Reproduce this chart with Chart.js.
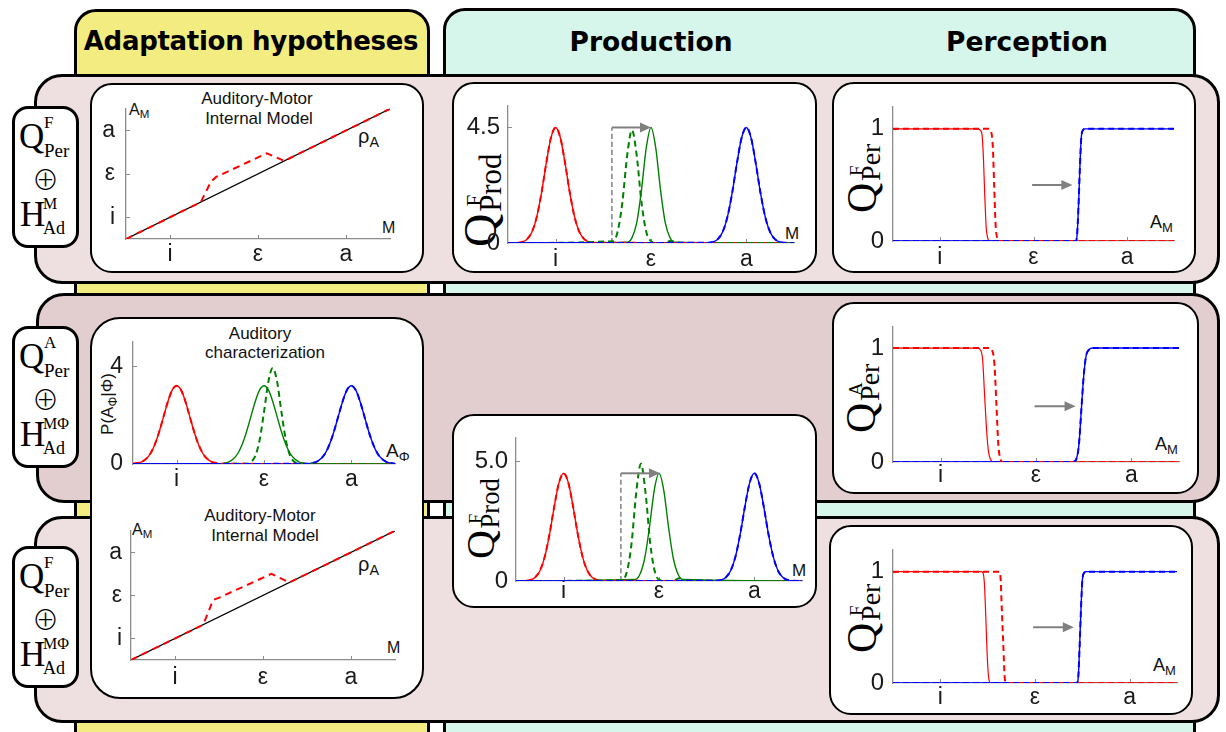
<!DOCTYPE html>
<html><head><meta charset="utf-8">
<script src="https://cdn.jsdelivr.net/npm/chart.js@4.4.1/dist/chart.umd.min.js"></script>
<style>
html,body{margin:0;padding:0;background:#fff;}
body{width:1226px;height:732px;overflow:hidden;position:relative;font-family:"Liberation Sans",Arial,sans-serif;}
.abs{position:absolute;box-sizing:border-box;}
.col{border:3px solid #000;border-radius:22px 22px 0 0;}
.row{border:3px solid #000;border-radius:28px;}
.box{background:#fff;border:2px solid #000;border-radius:22px;}
.lbox{background:#fff;border:3px solid #000;border-radius:16px;}
.hdr{position:absolute;font-family:"DejaVu Sans",sans-serif;font-weight:bold;color:#000;white-space:nowrap;line-height:1;transform:translate(-50%,-50%);}
.t{position:absolute;white-space:nowrap;line-height:1;color:#111;}
.c{transform:translate(-50%,-50%);}
.sb{font-size:0.72em;position:relative;top:0.3em;}
.serif{font-family:"Liberation Serif","Times New Roman",serif;color:#000;}
.rot{position:absolute;transform-origin:0 0;transform:rotate(-90deg);width:100px;height:40px;}
.rot span{position:absolute;line-height:1;font-family:"Liberation Serif",serif;color:#000;white-space:nowrap;}
canvas{position:absolute;}
</style></head><body>

<!-- column backgrounds -->
<div class="abs col" style="left:74px;top:9px;width:356px;height:760px;background:#f3ec80;"></div>
<div class="abs col" style="left:443px;top:8px;width:753px;height:760px;background:#d6f6ec;"></div>
<div class="hdr" style="left:251px;top:41px;font-size:26px;letter-spacing:-0.3px;">Adaptation hypotheses</div>
<div class="hdr" style="left:651px;top:42px;font-size:26.5px;">Production</div>
<div class="hdr" style="left:1027px;top:42px;font-size:26.5px;">Perception</div>

<!-- rows -->
<div class="abs row" style="left:34px;top:74px;width:1186px;height:210px;background:#eedfe0;"></div>
<div class="abs row" style="left:36px;top:293px;width:1184px;height:210px;background:#e3cecf;"></div>
<div class="abs row" style="left:34px;top:516px;width:1186px;height:207px;background:#eedfe0;"></div>

<!-- label boxes -->
<div class="abs lbox" style="left:12px;top:106px;width:67px;height:142px;"></div>
<div class="abs lbox" style="left:12px;top:326px;width:67px;height:142px;"></div>
<div class="abs lbox" style="left:12px;top:546px;width:67px;height:142px;"></div>

<!-- white plot boxes -->
<div class="abs box" style="left:90px;top:83px;width:334px;height:190px;"></div>
<div class="abs box" style="left:452px;top:82px;width:365px;height:191px;"></div>
<div class="abs box" style="left:832px;top:82px;width:364px;height:191px;"></div>
<div class="abs box" style="left:90px;top:317px;width:334px;height:382px;border-radius:30px;"></div>
<div class="abs box" style="left:452px;top:414px;width:365px;height:194px;"></div>
<div class="abs box" style="left:832px;top:302px;width:367px;height:192px;"></div>
<div class="abs box" style="left:829px;top:525px;width:364px;height:190px;"></div>

<div id="labels"></div>

<script>
// ================= DATA =================
const xTickVals = [1, 3, 5];
const xTickLabels = ['i', 'ε', 'a'];

// Row 1 – auditory-motor internal model
const a1IdentX = [0, 6];
const a1IdentY = [0, 6];
const a1AdaptX = [0, 1.7, 1.93, 2.05, 3.2, 3.6, 6];
const a1AdaptY = [0, 1.7, 2.64, 2.86, 3.95, 3.6, 6];
const a1YTickVals = [1, 3, 5];
const a1YTickLabels = ['i', 'ε', 'a'];

// Row 1 – production
const p1YTickVals = [0, 4.5];
const p1YTickLabels = ['0', '4.5'];
const p1RedX = [0, 0.2, 0.3, 0.4, 0.5, 0.6, 0.7, 0.8, 0.9, 1.0, 1.1, 1.2, 1.3, 1.4, 1.5, 1.6, 1.7, 1.8, 6];
const p1RedY = [0, 0.01, 0.04, 0.15, 0.42, 0.99, 1.92, 3.08, 4.09, 4.5, 4.09, 3.08, 1.92, 0.99, 0.42, 0.15, 0.04, 0.01, 0];
const p1BlueX = [0, 4.2, 4.3, 4.4, 4.5, 4.6, 4.7, 4.8, 4.9, 5.0, 5.1, 5.2, 5.3, 5.4, 5.5, 5.6, 5.7, 5.8, 6];
const p1BlueY = [0, 0.01, 0.04, 0.15, 0.42, 0.99, 1.92, 3.08, 4.09, 4.5, 4.09, 3.08, 1.92, 0.99, 0.42, 0.15, 0.04, 0.01, 0];
const p1GreenX = [0, 2.5, 2.6, 2.7, 2.8, 2.9, 3.0, 3.1, 3.2, 3.3, 3.4, 3.5, 6];
const p1GreenY = [0, 0.03, 0.20, 0.78, 2.06, 3.70, 4.5, 3.70, 2.06, 0.78, 0.20, 0.03, 0];
const p1GreenDashX = [0, 2.2, 2.3, 2.4, 2.5, 2.6, 2.7, 2.8, 2.9, 3.0, 3.1, 3.3, 3.4, 3.5, 3.6, 6];
const p1GreenDashY = [0, 0.07, 0.44, 1.59, 3.41, 4.4, 3.41, 1.59, 0.44, 0.07, 0, 0, 0.08, 0.06, 0, 0];
const p1ShiftX = [2.18, 2.18];
const p1ShiftY = [0, 4.5];
const p1Arrow = [2.18, 4.5, 3.0, 4.5];

// Row 1 – perception
const r1YTickVals = [0, 1];
const r1YTickLabels = ['0', '1'];
const r1RedX = [0, 1.8, 1.86, 1.9, 1.93, 1.96, 1.99, 2.02, 2.06, 6];
const r1RedY = [1, 1, 0.99, 0.95, 0.75, 0.4, 0.12, 0.03, 0, 0];
const r1RedDashX = [0, 2.04, 2.09, 2.13, 2.16, 2.19, 2.23, 2.27, 6];
const r1RedDashY = [1, 1, 0.98, 0.85, 0.5, 0.15, 0.02, 0, 0];
const r1BlueX = [0, 3.9, 3.93, 3.96, 3.99, 4.02, 4.06, 4.1, 6];
const r1BlueY = [0, 0, 0.05, 0.3, 0.65, 0.92, 0.99, 1, 1];
const r1Arrow = [2.97, 0.5, 3.83, 0.5];

// Row 2 – auditory characterization
const a2YTickVals = [0, 4];
const a2YTickLabels = ['0', '4'];
const a2RedX = [0, 0.1, 0.2, 0.3, 0.4, 0.5, 0.6, 0.7, 0.8, 0.9, 1.0, 1.1, 1.2, 1.3, 1.4, 1.5, 1.6, 1.7, 1.8, 1.9, 2.0, 6];
const a2RedY = [0.01, 0.04, 0.09, 0.21, 0.43, 0.80, 1.32, 1.94, 2.56, 3.03, 3.2, 3.03, 2.56, 1.94, 1.32, 0.80, 0.43, 0.21, 0.09, 0.04, 0.01, 0];
const a2GreenX = [0, 2.0, 2.1, 2.2, 2.3, 2.4, 2.5, 2.6, 2.7, 2.8, 2.9, 3.0, 3.1, 3.2, 3.3, 3.4, 3.5, 3.6, 3.7, 3.8, 3.9, 4.0, 6];
const a2GreenY = [0, 0.01, 0.04, 0.09, 0.21, 0.43, 0.80, 1.32, 1.94, 2.56, 3.03, 3.2, 3.03, 2.56, 1.94, 1.32, 0.80, 0.43, 0.21, 0.09, 0.04, 0.01, 0];
const a2GreenDashX = [0, 2.6, 2.7, 2.8, 2.9, 3.0, 3.1, 3.2, 3.3, 3.4, 3.5, 3.6, 3.7, 3.8, 6];
const a2GreenDashY = [0, 0.01, 0.08, 0.33, 0.98, 2.12, 3.37, 3.93, 3.37, 2.12, 0.98, 0.33, 0.08, 0.01, 0];
const a2BlueX = [0, 4.0, 4.1, 4.2, 4.3, 4.4, 4.5, 4.6, 4.7, 4.8, 4.9, 5.0, 5.1, 5.2, 5.3, 5.4, 5.5, 5.6, 5.7, 5.8, 5.9, 6.0];
const a2BlueY = [0, 0.01, 0.04, 0.09, 0.21, 0.43, 0.80, 1.32, 1.94, 2.56, 3.03, 3.2, 3.03, 2.56, 1.94, 1.32, 0.80, 0.43, 0.21, 0.09, 0.04, 0.01];

// Row 2 – perception
const r2RedX = [0, 1.78, 1.84, 1.88, 1.92, 1.96, 2.0, 2.05, 2.1, 6];
const r2RedY = [1, 1, 0.98, 0.9, 0.6, 0.3, 0.1, 0.02, 0, 0];
const r2RedDashX = [0, 2.02, 2.08, 2.13, 2.17, 2.21, 2.26, 2.3, 6];
const r2RedDashY = [1, 1, 0.98, 0.85, 0.5, 0.15, 0.02, 0, 0];
const r2BlueX = [0, 3.78, 3.85, 3.9, 3.95, 4.0, 4.05, 4.1, 4.18, 6];
const r2BlueY = [0, 0, 0.03, 0.15, 0.45, 0.75, 0.93, 0.98, 1, 1];
const r2Arrow = [2.97, 0.49, 3.83, 0.49];

// Rows 2-3 – production
const p2YTickVals = [0, 5];
const p2YTickLabels = ['0', '5.0'];
const p2RedX = [0, 0.2, 0.3, 0.4, 0.5, 0.6, 0.7, 0.8, 0.9, 1.0, 1.1, 1.2, 1.3, 1.4, 1.5, 1.6, 1.7, 1.8, 6];
const p2RedY = [0, 0.01, 0.04, 0.15, 0.42, 0.99, 1.92, 3.08, 4.09, 4.5, 4.09, 3.08, 1.92, 0.99, 0.42, 0.15, 0.04, 0.01, 0];
const p2BlueX = [0, 4.2, 4.3, 4.4, 4.5, 4.6, 4.7, 4.8, 4.9, 5.0, 5.1, 5.2, 5.3, 5.4, 5.5, 5.6, 5.7, 5.8, 6];
const p2BlueY = [0, 0.01, 0.04, 0.15, 0.42, 0.99, 1.92, 3.08, 4.09, 4.5, 4.09, 3.08, 1.92, 0.99, 0.42, 0.15, 0.04, 0.01, 0];
const p2GreenX = [0, 2.5, 2.6, 2.7, 2.8, 2.9, 3.0, 3.1, 3.2, 3.3, 3.4, 3.5, 6];
const p2GreenY = [0, 0.06, 0.28, 0.95, 2.25, 3.79, 4.5, 3.79, 2.25, 0.95, 0.28, 0.06, 0];
const p2GreenDashX = [0, 2.22, 2.32, 2.42, 2.52, 2.62, 2.72, 2.82, 2.92, 3.02, 3.3, 3.42, 3.52, 6];
const p2GreenDashY = [0, 0.04, 0.34, 1.50, 3.64, 4.9, 3.64, 1.50, 0.34, 0.04, 0, 0.12, 0, 0];
const p2ShiftX = [2.2, 2.2];
const p2ShiftY = [0, 4.5];
const p2Arrow = [2.2, 4.5, 3.02, 4.5];

// Row 3 – auditory-motor internal model
const a3IdentX = [0, 6];
const a3IdentY = [0, 6];
const a3AdaptX = [0, 1.64, 1.87, 2.02, 3.19, 3.6, 6];
const a3AdaptY = [0, 1.64, 2.79, 2.91, 4.0, 3.6, 6];

// Row 3 – perception
const r3RedX = [0, 1.86, 1.9, 1.93, 1.96, 1.99, 2.02, 2.06, 6];
const r3RedY = [1, 1, 0.99, 0.9, 0.6, 0.25, 0.05, 0, 0];
const r3RedDashX = [0, 2.24, 2.27, 2.3, 2.33, 2.36, 2.39, 6];
const r3RedDashY = [1, 1, 0.96, 0.65, 0.35, 0.05, 0, 0];
const r3BlueX = [0, 3.88, 3.91, 3.94, 3.97, 4.0, 4.04, 4.08, 6];
const r3BlueY = [0, 0, 0.03, 0.3, 0.65, 0.92, 0.99, 1, 1];
const r3Arrow = [2.96, 0.5, 3.82, 0.5];

// ================= HELPERS =================
const FONT = '"Liberation Sans", Arial, sans-serif';
const RED = '#ff0000', GREEN = '#008000', BLUE = '#0000ff', GRAY = '#808080', AX = '#8c8c8c';
Chart.defaults.font.family = FONT;

const pts = (xs, ys) => xs.map((x, i) => ({x: x, y: ys[i]}));
function ds(xs, ys, color, dashed, width, opts) {
  return Object.assign({
    data: pts(xs, ys), borderColor: color, borderWidth: width || (dashed ? 2 : 1.4),
    borderDash: dashed ? [6, 4] : [], pointRadius: 0, fill: false,
    cubicInterpolationMode: 'monotone', tension: 0
  }, opts || {});
}

const innerTicks = {
  id: 'innerTicks',
  beforeDatasetsDraw(chart) {
    const ctx = chart.ctx, xs = chart.scales.x, ys = chart.scales.y;
    ctx.save(); ctx.strokeStyle = AX; ctx.lineWidth = 1;
    xs.ticks.forEach(t => { const p = Math.round(xs.getPixelForValue(t.value)) + 0.5;
      ctx.beginPath(); ctx.moveTo(p, xs.top); ctx.lineTo(p, xs.top - 4); ctx.stroke(); });
    ys.ticks.forEach(t => { const p = Math.round(ys.getPixelForValue(t.value)) + 0.5;
      if (t.value === 0) return;
      ctx.beginPath(); ctx.moveTo(ys.right, p); ctx.lineTo(ys.right + 4, p); ctx.stroke(); });
    ctx.restore();
  }
};
const arrows = {
  id: 'arrows',
  afterDatasetsDraw(chart, args, opts) {
    if (!opts.list) return;
    const ctx = chart.ctx, xs = chart.scales.x, ys = chart.scales.y;
    opts.list.forEach(a => {
      const x1 = xs.getPixelForValue(a[0]), y1 = ys.getPixelForValue(a[1]);
      const x2 = xs.getPixelForValue(a[2]), y2 = ys.getPixelForValue(a[3]);
      ctx.save(); ctx.strokeStyle = GRAY; ctx.fillStyle = GRAY; ctx.lineWidth = 2;
      ctx.beginPath(); ctx.moveTo(x1, y1); ctx.lineTo(x2 - 8, y2); ctx.stroke();
      ctx.beginPath(); ctx.moveTo(x2, y2); ctx.lineTo(x2 - 11, y2 - 5); ctx.lineTo(x2 - 11, y2 + 5); ctx.closePath(); ctx.fill();
      ctx.restore();
    });
  }
};

function makeChart(rect, area, cfg) {
  const [L, T, W, H] = rect, [aL, aT, aR, aB] = area;
  const cv = document.createElement('canvas');
  cv.width = W; cv.height = H;
  cv.style.left = L + 'px'; cv.style.top = T + 'px';
  cv.style.width = W + 'px'; cv.style.height = H + 'px';
  document.body.appendChild(cv);
  const fs = cfg.fontSize || 23;
  new Chart(cv, {
    type: 'line',
    data: {datasets: cfg.datasets},
    options: {
      responsive: false, animation: false, devicePixelRatio: 1,
      layout: {padding: {left: 0, top: aT - T, right: (L + W) - aR, bottom: 0}},
      plugins: {legend: {display: false}, tooltip: {enabled: false}, arrows: {list: cfg.arrows || []}},
      scales: {
        x: {type: 'linear', min: 0, max: 6,
          afterBuildTicks: s => { s.ticks = xTickVals.map(v => ({value: v})); },
          afterFit: s => { s.height = (T + H) - aB; },
          ticks: {callback: v => xTickLabels[xTickVals.indexOf(v)], font: {size: fs, family: FONT}, color: '#1a1a1a', padding: cfg.xPad, maxRotation: 0, autoSkip: false},
          grid: {display: false, drawTicks: false},
          border: {display: true, color: AX, width: 1.3}
        },
        y: {type: 'linear', min: 0, max: cfg.yMax,
          afterBuildTicks: s => { s.ticks = cfg.yTicks.map(v => ({value: v})); },
          afterFit: s => { s.width = aL - L; },
          ticks: {callback: v => cfg.yLabels[cfg.yTicks.indexOf(v)], font: {size: cfg.yFontSize || fs, family: FONT}, color: '#1a1a1a', padding: cfg.yPad, autoSkip: false},
          grid: {display: false, drawTicks: false},
          border: {display: true, color: AX, width: 1.3}
        }
      }
    },
    plugins: [innerTicks, arrows]
  });
}

// ================= CHARTS =================
// A1
makeChart([91, 84, 332, 188], [126, 107, 390, 239], {
  yMax: 6, yTicks: a1YTickVals, yLabels: a1YTickLabels, xPad: 2, yPad: 11,
  datasets: [
    ds(a1AdaptX, a1AdaptY, RED, true, 2, {cubicInterpolationMode: 'default', borderDash: [7, 5]}),
    ds(a1IdentX, a1IdentY, '#000', false, 1.2)
  ]
});
// P1
makeChart([453, 83, 363, 189], [508, 93, 794, 243], {
  yMax: 5.36, yTicks: p1YTickVals, yLabels: p1YTickLabels, xPad: 3, yPad: 8, yFontSize: 24,
  arrows: [p1Arrow],
  datasets: [
    ds(p1BlueX, p1BlueY, BLUE, true),
    ds(p1GreenDashX, p1GreenDashY, GREEN, true),
    ds(p1RedX, p1RedY, RED, true),
    ds(p1BlueX, p1BlueY, BLUE, false),
    ds(p1GreenX, p1GreenY, GREEN, false),
    ds(p1RedX, p1RedY, RED, false),
    ds(p1ShiftX, p1ShiftY, GRAY, true, 1.5, {borderDash: [5, 3]})
  ]
});
// R1
makeChart([833, 83, 362, 189], [893, 93, 1174, 241], {
  yMax: 1.2, yTicks: r1YTickVals, yLabels: r1YTickLabels, xPad: 3, yPad: 9, yFontSize: 24,
  arrows: [r1Arrow],
  datasets: [
    ds(r1BlueX, r1BlueY, BLUE, true),
    ds(r1RedDashX, r1RedDashY, RED, true),
    ds(r1BlueX, r1BlueY, BLUE, false),
    ds(r1RedX, r1RedY, RED, false, 1.2)
  ]
});
// A2
makeChart([91, 318, 332, 190], [133, 341, 395, 464], {
  yMax: 5, yTicks: a2YTickVals, yLabels: a2YTickLabels, xPad: 2, yPad: 10,
  datasets: [
    ds(a2BlueX, a2BlueY, BLUE, true),
    ds(a2GreenDashX, a2GreenDashY, GREEN, true),
    ds(a2RedX, a2RedY, RED, true),
    ds(a2BlueX, a2BlueY, BLUE, false),
    ds(a2GreenX, a2GreenY, GREEN, false),
    ds(a2RedX, a2RedY, RED, false)
  ]
});
// R2
makeChart([833, 303, 365, 190], [893, 310, 1179, 462], {
  yMax: 1.19, yTicks: r1YTickVals, yLabels: r1YTickLabels, xPad: 0, yPad: 9, yFontSize: 24,
  arrows: [r2Arrow],
  datasets: [
    ds(r2BlueX, r2BlueY, BLUE, true),
    ds(r2RedDashX, r2RedDashY, RED, true),
    ds(r2BlueX, r2BlueY, BLUE, false),
    ds(r2RedX, r2RedY, RED, false, 1.2)
  ]
});
// P2
makeChart([453, 415, 363, 192], [516, 423, 802, 581], {
  yMax: 6, yTicks: p2YTickVals, yLabels: p2YTickLabels, xPad: -3, yPad: 8, yFontSize: 24,
  arrows: [p2Arrow],
  datasets: [
    ds(p2BlueX, p2BlueY, BLUE, true),
    ds(p2GreenDashX, p2GreenDashY, GREEN, true),
    ds(p2RedX, p2RedY, RED, true),
    ds(p2BlueX, p2BlueY, BLUE, false),
    ds(p2GreenX, p2GreenY, GREEN, false),
    ds(p2RedX, p2RedY, RED, false),
    ds(p2ShiftX, p2ShiftY, GRAY, true, 1.5, {borderDash: [5, 3]})
  ]
});
// A3
makeChart([91, 508, 332, 190], [131, 523, 395, 660], {
  yMax: 6, yTicks: a1YTickVals, yLabels: a1YTickLabels, xPad: 4, yPad: 9,
  datasets: [
    ds(a3AdaptX, a3AdaptY, RED, true, 2, {cubicInterpolationMode: 'default', borderDash: [7, 5]}),
    ds(a3IdentX, a3IdentY, '#000', false, 1.2)
  ]
});
// R3
makeChart([830, 526, 362, 188], [893, 535, 1177, 683], {
  yMax: 1.2, yTicks: r1YTickVals, yLabels: r1YTickLabels, xPad: 1, yPad: 9, yFontSize: 24,
  arrows: [r3Arrow],
  datasets: [
    ds(r3BlueX, r3BlueY, BLUE, true),
    ds(r3RedDashX, r3RedDashY, RED, true),
    ds(r3BlueX, r3BlueY, BLUE, false),
    ds(r3RedX, r3RedY, RED, false, 1.2)
  ]
});

// ================= TEXT LABELS =================
const host = document.getElementById('labels');
function txt(html, x, y, size, cls, extra) {
  const d = document.createElement('div');
  d.className = 't ' + (cls || '');
  d.style.left = x + 'px'; d.style.top = y + 'px'; d.style.fontSize = size + 'px';
  if (extra) d.setAttribute('style', d.getAttribute('style') + extra);
  d.innerHTML = html; host.appendChild(d); return d;
}
// chart titles
txt('Auditory-Motor', 257, 98, 17, 'c');
txt('Internal Model', 259, 118, 17, 'c');
txt('Auditory', 260, 333, 17, 'c');
txt('characterization', 265, 352, 17, 'c');
txt('Auditory-Motor', 260, 515, 17, 'c');
txt('Internal Model', 265, 535, 17, 'c');
// axis names
txt('A<span class="sb">M</span>', 129, 102, 16);
txt('ρ<span class="sb">A</span>', 358, 126, 20);
txt('M', 382, 220, 16);
txt('M', 785, 225, 17);
txt('A<span class="sb">M</span>', 1150, 213, 18);
txt('A<span class="sb">M</span>', 1155, 435, 18);
txt('A<span class="sb">M</span>', 1153, 656, 18);
txt('A<span class="sb">Φ</span>', 386, 441, 19);
txt('M', 792, 562, 17);
txt('A<span class="sb">M</span>', 132, 522, 16);
txt('ρ<span class="sb">A</span>', 358, 554, 20);
txt('M', 387, 640, 16);
txt('P(A<span class="sb">Φ</span>|Φ)', 107, 404, 17, '', 'transform:translate(-50%,-50%) rotate(-90deg);');

// rotated Q labels (frame: u along text, v across); x = Q cap-top screen x, y = Q start screen y
function qrot(x, y, sup, sub, k) {
  const d = document.createElement('div');
  d.className = 'rot'; d.style.left = x + 'px'; d.style.top = y + 'px';
  const q = 42 * k, sp = 19 * k, sb = 28 * k;
  d.innerHTML = '<span style="font-size:' + q + 'px;left:-1px;top:' + (-0.175 * q) + 'px;">Q</span>' +
    '<span style="font-size:' + sp + 'px;left:' + (0.86 * q) + 'px;top:' + (2 - 0.175 * sp) + 'px;">' + sup + '</span>' +
    '<span style="font-size:' + sb + 'px;left:' + (0.74 * q) + 'px;top:' + (14 * k - 0.175 * sb) + 'px;">' + sub + '</span>';
  host.appendChild(d);
}
qrot(466, 246, 'F', 'Prod', 1.1);
qrot(848, 212, 'F', 'Per', 1);
qrot(847, 432, 'A', 'Per', 1);
qrot(848, 652, 'F', 'Per', 1);
qrot(468, 558, 'F', 'Prod', 0.95);

// left hypothesis labels
function hyp(top, qs, hs) {
  const d = document.createElement('div');
  d.className = 'serif'; d.style.position = 'absolute'; d.style.left = '0px'; d.style.top = top + 'px';
  d.innerHTML =
    '<span class="t serif" style="font-size:35px;left:19px;top:12px;">Q</span>' +
    '<span class="t serif" style="font-size:17px;left:44px;top:7px;">' + qs + '</span>' +
    '<span class="t serif" style="font-size:19px;left:44px;top:34px;">Per</span>' +
    '<span class="t" style="font-family:\'Noto Sans CJK JP\',\'DejaVu Sans\';font-weight:300;font-size:27px;left:45.5px;top:71px;transform:translate(-50%,-50%);color:#000;">⊕</span>' +
    '<span class="t serif" style="font-size:35px;left:20px;top:90px;">H</span>' +
    '<span class="t serif" style="font-size:16px;left:43px;top:89px;">' + hs + '</span>' +
    '<span class="t serif" style="font-size:18px;left:43px;top:112px;">Ad</span>';
  host.appendChild(d);
}
hyp(107, 'F', 'M');
hyp(327, 'A', 'MΦ');
hyp(547, 'F', 'MΦ');
</script>
</body></html>
